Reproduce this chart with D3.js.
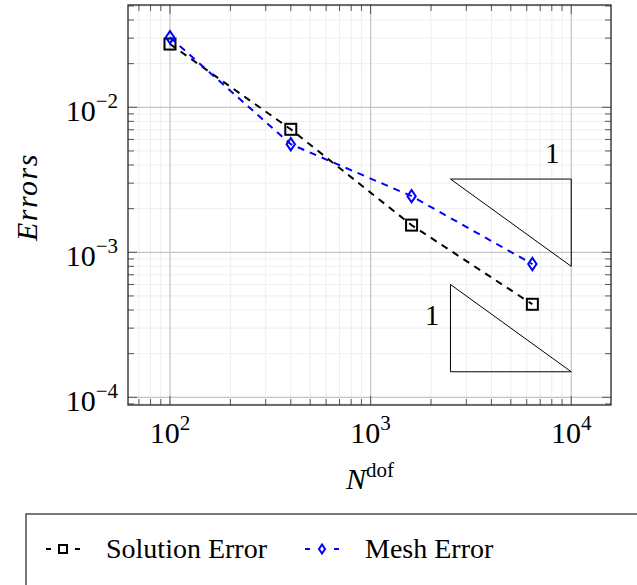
<!DOCTYPE html>
<html>
<head>
<meta charset="utf-8">
<script src="https://cdn.jsdelivr.net/npm/d3@7"></script>
<style>
  body { margin: 0; background: #fff; }
  text { font-family: "Liberation Serif", "DejaVu Serif", serif; fill: #000; }
</style>
</head>
<body>
<div id="chart"></div>
<script>
//=====================
// Convergence plot: errors vs N^dof (log-log)
//=====================

// data
let nDof = [100, 400, 1600, 6400];
let solutionError = [0.0273, 0.00705, 0.00154, 0.000438];
let meshError = [0.0304, 0.00556, 0.00244, 0.00083];

// slope triangles
let triUpper = [[2500, 0.0032], [10000, 0.0032], [10000, 0.0008]];
let triLower = [[2500, 0.0006], [2500, 0.00015], [10000, 0.00015]];
let triLabels = [[8050, 0.00484, '1'], [2020, 0.00037, '1']];

let xTickExp = [2, 3, 4];
let yTickExp = [-2, -3, -4];
let legendNames = ['Solution Error', 'Mesh Error'];

let width = 637;
let height = 585;
let box = { left: 128, right: 611, top: 5, bottom: 405 };

let svg = d3.select('#chart').append('svg')
  .attr('width', width)
  .attr('height', height);

let x = d3.scaleLog().domain([61.76, 15780]).range([box.left, box.right]);
let y = d3.scaleLog().domain([8.85e-5, 0.05075]).range([box.bottom, box.top]);

// minor values 2..9 x 10^k inside the domain
let minors = (scale) => {
  let out = [];
  let [a, b] = scale.domain();
  for (let k = -6; k < 6; k++) {
    for (let m = 2; m < 10; m++) {
      let v = m * Math.pow(10, k);
      if (v > a && v < b) out.push(v);
    }
  }
  return out;
};
let xMinor = minors(x);
let yMinor = minors(y);
let xMajor = xTickExp.map(e => Math.pow(10, e));
let yMajor = yTickExp.map(e => Math.pow(10, e));

// grid
let grid = svg.append('g');
grid.selectAll('.xm').data(xMinor).enter().append('line')
  .attr('x1', d => x(d)).attr('x2', d => x(d))
  .attr('y1', box.top).attr('y2', box.bottom)
  .style('stroke', '#eeeeee').style('stroke-width', 1);
grid.selectAll('.ym').data(yMinor).enter().append('line')
  .attr('x1', box.left).attr('x2', box.right)
  .attr('y1', d => y(d)).attr('y2', d => y(d))
  .style('stroke', '#eeeeee').style('stroke-width', 1);
grid.selectAll('.xM').data(xMajor).enter().append('line')
  .attr('x1', d => x(d)).attr('x2', d => x(d))
  .attr('y1', box.top).attr('y2', box.bottom)
  .style('stroke', '#c4c4c4').style('stroke-width', 1.2);
grid.selectAll('.yM').data(yMajor).enter().append('line')
  .attr('x1', box.left).attr('x2', box.right)
  .attr('y1', d => y(d)).attr('y2', d => y(d))
  .style('stroke', '#c4c4c4').style('stroke-width', 1.2);

// inside ticks on all four sides
let ticks = svg.append('g').style('stroke', '#555').style('stroke-width', 1);
let tickLen = (d, major) => major ? 9 : 6;
[[xMinor, false], [xMajor, true]].forEach(([vals, major]) => {
  ticks.selectAll(null).data(vals).enter().append('line')
    .attr('x1', d => x(d)).attr('x2', d => x(d))
    .attr('y1', box.bottom).attr('y2', d => box.bottom - tickLen(d, major));
  ticks.selectAll(null).data(vals).enter().append('line')
    .attr('x1', d => x(d)).attr('x2', d => x(d))
    .attr('y1', box.top).attr('y2', d => box.top + tickLen(d, major));
});
[[yMinor, false], [yMajor, true]].forEach(([vals, major]) => {
  ticks.selectAll(null).data(vals).enter().append('line')
    .attr('y1', d => y(d)).attr('y2', d => y(d))
    .attr('x1', box.left).attr('x2', d => box.left + tickLen(d, major));
  ticks.selectAll(null).data(vals).enter().append('line')
    .attr('y1', d => y(d)).attr('y2', d => y(d))
    .attr('x1', box.right).attr('x2', d => box.right - tickLen(d, major));
});

// frame
svg.append('rect')
  .attr('x', box.left).attr('y', box.top)
  .attr('width', box.right - box.left).attr('height', box.bottom - box.top)
  .style('fill', 'none').style('stroke', '#222').style('stroke-width', 1.3);

// tick labels
let xl = svg.append('g').selectAll('text').data(xTickExp).enter().append('text')
  .attr('x', d => x(Math.pow(10, d)))
  .attr('y', 443)
  .attr('text-anchor', 'middle')
  .style('font-size', '30px');
xl.append('tspan').text('10');
xl.append('tspan').attr('dy', -13).style('font-size', '21px').text(d => d);

let yl = svg.append('g').selectAll('text').data(yTickExp).enter().append('text')
  .attr('x', 118)
  .attr('y', d => y(Math.pow(10, d)) + 14)
  .attr('text-anchor', 'end')
  .style('font-size', '30px');
yl.append('tspan').text('10');
yl.append('tspan').attr('dy', -13).style('font-size', '21px').text(d => '\u2212' + Math.abs(d));

// axis titles
let xt = svg.append('text')
  .attr('x', 370).attr('y', 489)
  .attr('text-anchor', 'middle')
  .style('font-size', '30px');
xt.append('tspan').style('font-style', 'italic').text('N');
xt.append('tspan').attr('dy', -12).style('font-size', '21px').text('dof');

svg.append('text')
  .attr('transform', 'translate(37,197) rotate(-90)')
  .attr('text-anchor', 'middle')
  .style('font-size', '30px')
  .style('font-style', 'italic')
  .style('letter-spacing', '1.5px')
  .text('Errors');

// slope triangles
let tri = d3.line().x(d => x(d[0])).y(d => y(d[1])).curve(d3.curveLinearClosed);
[triUpper, triLower].forEach((t) => {
  svg.append('path')
    .attr('d', tri(t))
    .style('fill', 'none').style('stroke', '#000').style('stroke-width', 1);
});
svg.selectAll('.tlab').data(triLabels).enter().append('text')
  .attr('x', d => x(d[0])).attr('y', d => y(d[1]) + 10)
  .attr('text-anchor', 'middle')
  .style('font-size', '29px')
  .text(d => d[2]);

// series
let line = d3.line().x(d => x(d[0])).y(d => y(d[1]));
let series = [
  { vals: solutionError, color: '#000', marker: 'square' },
  { vals: meshError, color: '#0000ff', marker: 'diamond' }
];

let drawMarker = (g, kind, color, cx, cy, s) => {
  if (kind === 'square') {
    g.append('rect')
      .attr('x', cx - s / 2).attr('y', cy - s / 2)
      .attr('width', s).attr('height', s)
      .style('fill', 'none').style('stroke', color).style('stroke-width', 2);
  } else {
    let w = s * 0.38, h = s * 0.56;
    g.append('path')
      .attr('d', 'M' + cx + ',' + (cy - h) + 'L' + (cx + w) + ',' + cy + 'L' + cx + ',' + (cy + h) + 'L' + (cx - w) + ',' + cy + 'Z')
      .style('fill', 'none').style('stroke', color).style('stroke-width', 2);
  }
};

series.forEach((s) => {
  let pts = nDof.map((n, i) => [n, s.vals[i]]);
  svg.append('path')
    .attr('d', line(pts))
    .style('fill', 'none')
    .style('stroke', s.color)
    .style('stroke-width', 2)
    .style('stroke-dasharray', '7 6');
  let g = svg.append('g');
  pts.forEach((p) => drawMarker(g, s.marker, s.color, x(p[0]), y(p[1]), 11));
});

// legend
let legend = svg.append('g');
legend.append('rect')
  .attr('x', 26).attr('y', 514)
  .attr('width', 700).attr('height', 120)
  .style('fill', '#fff').style('stroke', '#333').style('stroke-width', 1.3);

let legendX = [46, 305];
series.forEach((s, i) => {
  let lx = legendX[i];
  legend.append('line')
    .attr('x1', lx).attr('x2', lx + 34)
    .attr('y1', 549).attr('y2', 549)
    .style('stroke', s.color).style('stroke-width', 2)
    .style('stroke-dasharray', '5 24');
  legend.append('line')
    .attr('x1', lx + 29).attr('x2', lx + 34)
    .attr('y1', 549).attr('y2', 549)
    .style('stroke', s.color).style('stroke-width', 2);
  drawMarker(legend, s.marker, s.color, lx + 17, 549, 8);
  legend.append('text')
    .attr('x', lx + 60).attr('y', 558)
    .style('font-size', '28px')
    .text(legendNames[i]);
});
</script>
</body>
</html>
